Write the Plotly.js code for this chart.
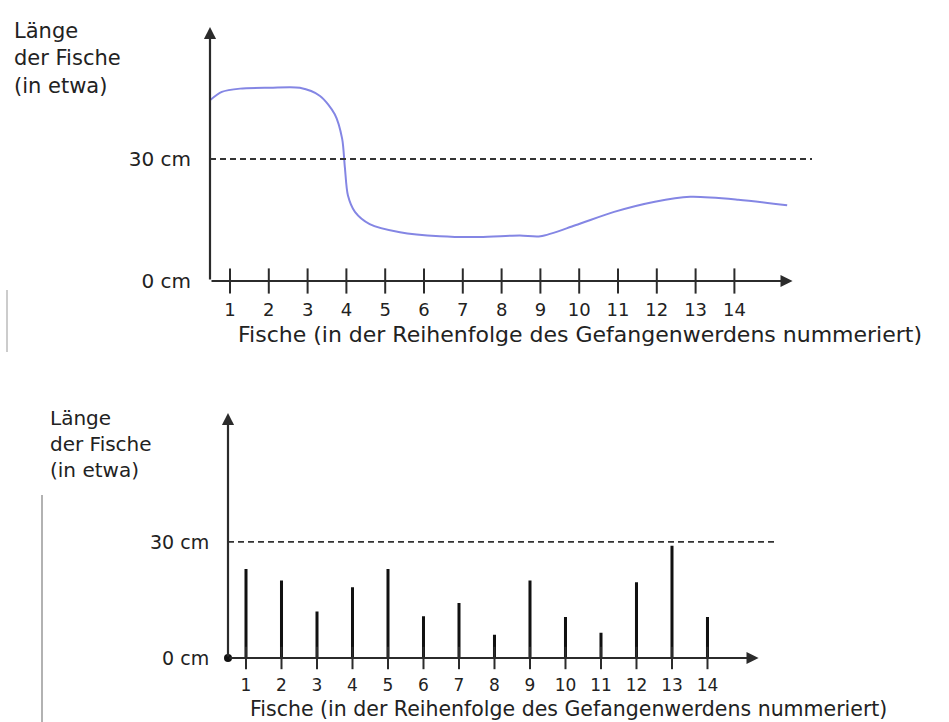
<!DOCTYPE html>
<html>
<head>
<meta charset="utf-8">
<script src="https://cdn.plot.ly/plotly-3.0.1.min.js"></script>
<style>html,body{margin:0;padding:0;background:#fff;}#chart{width:949px;height:722px;}</style>
</head>
<body>
<div id="chart"></div>
<script>
// ---- data ----
const fish = [1, 2, 3, 4, 5, 6, 7, 8, 9, 10, 11, 12, 13, 14];
const fishTickText = ["1","2","3","4","5","6","7","8","9","10","11","12","13","14"];
// top chart: smooth hand-drawn curve
const curveX = [0.49, 0.79, 1.26, 2.03, 2.8, 3.32, 3.7, 3.89, 3.96, 4.04, 4.22, 4.6, 5.38, 6.41, 7.44, 8.47, 9.0, 9.9, 10.9, 11.95, 12.86, 14.1, 15.36];
const curveY = [44.5, 46.5, 47.3, 47.5, 47.5, 45.5, 41, 35, 28, 21, 17, 14, 12, 11, 10.8, 11.2, 11, 13.7, 17, 19.5, 20.7, 20, 18.6];
// bottom chart: lengths of each fish (cm)
const fishLengths = [23, 20, 12, 18.3, 23, 10.8, 14.2, 6, 20, 10.6, 6.5, 19.6, 29, 10.6];
const threshold = 30;
const yTickVals = [0, 30];
const yTickText = ["0 cm", "30 cm"];
const yLabel = "Länge<br>der Fische<br>(in etwa)";
const xLabel = "Fische (in der Reihenfolge des Gefangenwerdens nummeriert)";

// ---- layout helpers ----
const W = 949, H = 722;
const px = v => v / W, py = v => 1 - v / H;
const FONT = "DejaVu Sans, Liberation Sans, Arial, sans-serif";
const TXT = "#222";

// top: 0 cm at y=281px, 4.067 px per cm; bottom: 0 cm at y=658px, 3.87 px per cm
const topX = [0.4845, 16.464], topY = [-3, 62.45];
const botX = [0.493, 16.606], botY = [-3, 63.3];
const topArrowEnd = 15.5, botArrowEnd = 15.44;
const topDashEnd = 16.0, botDashEnd = 15.96;

const traces = [
  {x: curveX, y: curveY, type: 'scatter', mode: 'lines', line: {shape: 'spline', smoothing: 0.8, color: '#8486e4', width: 2}, xaxis: 'x', yaxis: 'y', hoverinfo: 'skip'},
  {x: fish, y: fish.map(() => 0), type: 'scatter', mode: 'markers', marker: {symbol: 'line-ns-open', size: 18, color: '#2b2b2b', line: {color: '#2b2b2b', width: 2}}, xaxis: 'x', yaxis: 'y', cliponaxis: false, hoverinfo: 'skip'},
  {x: fish, y: fishLengths, type: 'bar', width: 0.085, marker: {color: '#111'}, xaxis: 'x2', yaxis: 'y2', hoverinfo: 'skip'},
  {x: fish, y: fish.map(() => 0), type: 'scatter', mode: 'markers', marker: {symbol: 'line-ns-open', size: 16, color: '#2b2b2b', line: {color: '#2b2b2b', width: 2}}, xaxis: 'x2', yaxis: 'y2', cliponaxis: false, hoverinfo: 'skip'},
  {x: [botX[0]], y: [0], type: 'scatter', mode: 'markers', marker: {color: '#111', size: 8}, xaxis: 'x2', yaxis: 'y2', cliponaxis: false, hoverinfo: 'skip'}
];

const xCommon = {showgrid: false, zeroline: false, showline: false, tickmode: 'array', tickvals: fish, ticktext: fishTickText, ticks: 'outside', tickcolor: 'rgba(0,0,0,0)', fixedrange: true};
const yCommon = {showgrid: false, zeroline: false, showline: false, tickmode: 'array', tickvals: yTickVals, ticktext: yTickText, ticks: 'outside', tickcolor: 'rgba(0,0,0,0)', fixedrange: true};

const arrow = (xa, ya, x, y, ax, ay) => ({xref: xa, yref: ya, axref: xa, ayref: ya, x: x, y: y, ax: ax, ay: ay, text: '', showarrow: true, arrowhead: 2, arrowsize: 1.1, arrowwidth: 2.2, arrowcolor: '#2b2b2b', standoff: 0, startstandoff: 0});

const layout = {
  width: W, height: H,
  margin: {l: 0, r: 0, t: 0, b: 0},
  paper_bgcolor: '#fff', plot_bgcolor: 'rgba(0,0,0,0)',
  showlegend: false,
  font: {family: FONT, color: TXT},
  xaxis: Object.assign({}, xCommon, {domain: [px(210), px(830)], range: topX, anchor: 'y', ticklen: 0, tickfont: {size: 18, color: TXT, family: FONT}}),
  yaxis: Object.assign({}, yCommon, {domain: [py(281 + 3 * 4.067), py(27)], range: topY, anchor: 'x', ticklen: 14, tickfont: {size: 20, color: TXT, family: FONT}}),
  xaxis2: Object.assign({}, xCommon, {domain: [px(228), px(800)], range: botX, anchor: 'y2', ticklen: 0, tickfont: {size: 17, color: TXT, family: FONT}}),
  yaxis2: Object.assign({}, yCommon, {domain: [py(658 + 3 * 3.87), py(413)], range: botY, anchor: 'x2', ticklen: 14, tickfont: {size: 19, color: TXT, family: FONT}}),
  shapes: [
    {type: 'line', xref: 'x', yref: 'y', x0: topX[0], x1: topDashEnd, y0: threshold, y1: threshold, line: {color: '#333', width: 2, dash: '6px,4px'}},
    {type: 'line', xref: 'x2', yref: 'y2', x0: botX[0], x1: botDashEnd, y0: threshold, y1: threshold, line: {color: '#333', width: 1.8, dash: '6px,4px'}},
    {type: 'line', xref: 'paper', yref: 'paper', x0: px(7), x1: px(7), y0: py(290), y1: py(352), line: {color: '#999', width: 1}},
    {type: 'line', xref: 'paper', yref: 'paper', x0: px(42), x1: px(42), y0: py(495), y1: py(722), line: {color: '#999', width: 1.5}}
  ],
  annotations: [
    arrow('x', 'y', topX[0], topY[1], topX[0], 0),
    arrow('x', 'y', topArrowEnd, 0, topX[0], 0),
    arrow('x2', 'y2', botX[0], botY[1], botX[0], 0),
    arrow('x2', 'y2', botArrowEnd, 0, botX[0], 0),
    {xref: 'paper', yref: 'paper', x: px(12), y: py(17), xanchor: 'left', yanchor: 'top', align: 'left', showarrow: false, text: yLabel, font: {size: 21, color: TXT, family: FONT}},
    {xref: 'paper', yref: 'paper', x: px(48), y: py(404), xanchor: 'left', yanchor: 'top', align: 'left', showarrow: false, text: yLabel, font: {size: 20, color: TXT, family: FONT}},
    {xref: 'paper', yref: 'paper', x: px(580), y: py(334), xanchor: 'center', yanchor: 'middle', showarrow: false, text: xLabel, font: {size: 22, color: TXT, family: FONT}},
    {xref: 'paper', yref: 'paper', x: px(568), y: py(709), xanchor: 'center', yanchor: 'middle', showarrow: false, text: xLabel, font: {size: 20.5, color: TXT, family: FONT}}
  ]
};

Plotly.newPlot('chart', traces, layout, {staticPlot: true, displayModeBar: false});
</script>
</body>
</html>
